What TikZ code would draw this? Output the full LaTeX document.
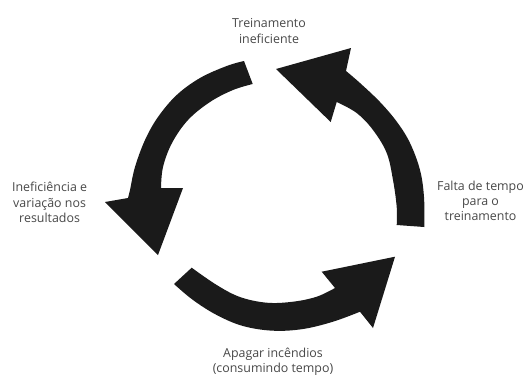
\documentclass[tikz,border=0pt]{standalone}
\usepackage{fontspec}
\setmainfont{Open Sans}
\definecolor{arrowfill}{RGB}{26,26,26}
\definecolor{labeltext}{RGB}{72,72,72}
\tikzset{
  blockarrow/.style={fill=arrowfill, draw=none},
  steplabel/.style={align=center, text=labeltext, inner sep=0pt,
    font=\fontsize{12.4}{15.3}\selectfont},
}
\begin{document}
\begin{tikzpicture}[x=1pt, y=-1pt]
\useasboundingbox (0,0) rectangle (526,376);

% Left arrow: from the top, bending down to the left
\fill[blockarrow]
  plot[smooth, tension=0.6] coordinates {(244,61) (226.7,66) (200,78) (176.7,95) (158,117) (145,140) (135,167) (130,190) (128,198)}
  -- (105,202) -- (158,255) -- (183,188)
  -- plot[smooth, tension=0.6] coordinates {(161,188) (163,167) (172,143) (188,120) (210,102) (233,90) (252.7,84)}
  -- cycle;

% Right arrow: from the lower right, bending up to the top
\fill[blockarrow]
  plot[smooth, tension=0.6] coordinates {(424.3,227) (424,197) (420,170) (410,143) (397,122) (380,102) (360,83) (346,71)}
  -- (351,48) -- (276,69) -- (330.7,122)
  -- plot[smooth, tension=0.6] coordinates {(336.7,102) (356.7,113) (373,130) (386.7,153) (393,180) (396.7,207) (396.7,225)}
  -- cycle;

% Bottom arrow: from the lower left, bending up to the right
\fill[blockarrow]
  plot[smooth, tension=0.6] coordinates {(174,284) (193,300) (216.7,315) (243,326) (273,330.7) (303,329) (333,321.7) (360,311.7)}
  -- (373,328) -- (395,256.7) -- (321.7,271.7)
  -- plot[smooth, tension=0.6] coordinates {(335,288) (316.7,296.7) (293,301.7) (266.7,302.7) (240,297) (216.7,285) (191.7,267.7)}
  -- cycle;

% Labels
\node[steplabel] (top) at (269,31) {Treinamento\\ineficiente};
\node[steplabel] (left) at (49.6,202.5) {Ineficiência e\\variação nos\\resultados};
\node[steplabel] (right) at (480.5,201) {Falta de tempo\\para o\\treinamento};
\node[steplabel] (bottom) at (273,362) {Apagar incêndios\\(consumindo tempo)};
\end{tikzpicture}
\end{document}
